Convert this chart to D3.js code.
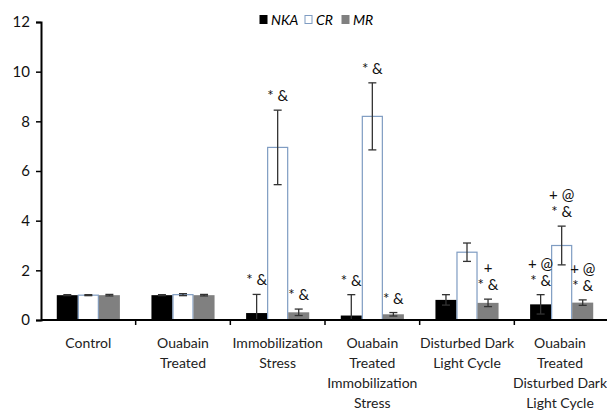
<!DOCTYPE html>
<html><head><meta charset="utf-8">
<script src="https://cdn.jsdelivr.net/npm/d3@7"></script>
<style>body{margin:0;background:#fff}svg{display:block;font-family:Lato,"Open Sans",sans-serif}</style>
</head><body><svg id="c" width="607" height="413"></svg>
<script>
const categories = [
  ["Control"],
  ["Ouabain","Treated"],
  ["Immobilization","Stress"],
  ["Ouabain","Treated","Immobilization","Stress"],
  ["Disturbed Dark","Light Cycle"],
  ["Ouabain","Treated","Disturbed Dark","Light Cycle"]
];
const series = ["NKA","CR","MR"];
const nkaValues = [1.0, 1.0, 0.28, 0.18, 0.81, 0.63];
const nkaErrors = [0.02, 0.02, 0.75, 0.84, 0.21, 0.39];
const crValues  = [1.0, 1.02, 6.95, 8.2, 2.73, 3.0];
const crErrors  = [0.02, 0.04, 1.5, 1.35, 0.37, 0.78];
const mrValues  = [1.0, 1.0, 0.31, 0.23, 0.69, 0.7];
const mrErrors  = [0.03, 0.03, 0.13, 0.07, 0.15, 0.11];
const nkaMarks = [[],[],["* &"],["* &"],[],["+ @","* &"]];
const crMarks  = [[],[],["*  &"],["*  &"],[],["+ @","* &"]];
const mrMarks  = [[],[],["* &"],["* &"],["+","* &"],["+ @","* &"]];
const yTicks = [0,2,4,6,8,10,12];

const fills = {NKA:"#000000", CR:"#ffffff", MR:"#808080"};
const strokes = {NKA:"#000000", CR:"#7f9cc2", MR:"#808080"};
const vals = {NKA:nkaValues, CR:crValues, MR:mrValues};
const errs = {NKA:nkaErrors, CR:crErrors, MR:mrErrors};
const marks = {NKA:nkaMarks, CR:crMarks, MR:mrMarks};

const svg = d3.select("#c");
const x0 = d3.scaleBand().domain(d3.range(categories.length)).range([41, 609]).padding(0);
const x1 = d3.scaleBand().domain(series).range([0, x0.bandwidth()]).paddingInner(0).paddingOuter(0.75);
const y = d3.scaleLinear().domain([0,12]).range([320, 22]);

// y axis
const ya = svg.append("g").attr("transform","translate(41,0)")
  .call(d3.axisLeft(y).tickValues(yTicks).tickSize(5).tickPadding(6));
ya.select(".domain").attr("stroke","#000").attr("stroke-width",2);
ya.selectAll(".tick line").attr("stroke","#000").attr("stroke-width",1.5);
ya.selectAll(".tick text").attr("font-size",15).attr("fill","#111").attr("font-family","Lato,sans-serif");

// bars
const data = [];
categories.forEach((c,i)=>series.forEach(s=>data.push({i,s,v:vals[s][i],e:errs[s][i],m:marks[s][i]})));
const g = svg.append("g");
g.selectAll("rect").data(data).join("rect")
  .attr("x",d=>x0(d.i)+x1(d.s)+(d.s==="CR"?0.5:0))
  .attr("width",d=>x1.bandwidth()-(d.s==="CR"?1:0))
  .attr("y",d=>y(d.v))
  .attr("height",d=>y(0)-y(d.v))
  .attr("fill",d=>fills[d.s])
  .attr("stroke",d=>d.s==="CR"?strokes.CR:"none")
  .attr("stroke-width",1.2);

// error bars
const eb = svg.append("g").attr("stroke","#333").attr("stroke-width",1.3);
data.forEach(d=>{
  const cx = x0(d.i)+x1(d.s)+x1.bandwidth()/2;
  const top = y(d.v+d.e), bot = y(Math.max(0,d.v-d.e));
  eb.append("line").attr("x1",cx).attr("x2",cx).attr("y1",top).attr("y2",bot);
  eb.append("line").attr("x1",cx-4).attr("x2",cx+4).attr("y1",top).attr("y2",top);
  eb.append("line").attr("x1",cx-4).attr("x2",cx+4).attr("y1",bot).attr("y2",bot);
});

// annotations
const an = svg.append("g").attr("font-size",15).attr("fill","#111").attr("text-anchor","middle");
data.forEach(d=>{
  const cx = x0(d.i)+x1(d.s)+x1.bandwidth()/2;
  const top = y(d.v+d.e);
  const n = d.m.length;
  d.m.forEach((t,k)=>{
    an.append("text").attr("x",cx).attr("y",top-9-(n-1-k)*17).text(t);
  });
});

// x axis
const xa = svg.append("g").attr("transform","translate(0,320)");
xa.append("line").attr("x1",41).attr("x2",607).attr("y1",0).attr("y2",0).attr("stroke","#000").attr("stroke-width",2);
xa.selectAll("line.t").data(d3.range(1,categories.length)).join("line").attr("class","t")
  .attr("x1",d=>x0(d)).attr("x2",d=>x0(d)).attr("y1",0).attr("y2",5).attr("stroke","#000").attr("stroke-width",1.5);
const xl = xa.selectAll("text.cat").data(categories).join("text").attr("class","cat")
  .attr("text-anchor","middle").attr("font-size",14).attr("fill","#222");
xl.each(function(lines,i){
  const t = d3.select(this);
  const cx = Math.min(x0(i)+x0.bandwidth()/2, 560);
  lines.forEach((ln,k)=>t.append("tspan").attr("x",cx).attr("y",28+k*20).text(ln));
});

// legend
const lg = svg.append("g").attr("font-size",14).attr("font-style","italic").attr("fill","#000");
const lx = [260, 305, 342];
series.forEach((s,k)=>{
  lg.append("rect").attr("x",lx[k]).attr("y",15.5).attr("width",7).attr("height",8)
    .attr("fill",fills[s]).attr("stroke",strokes[s]).attr("stroke-width",1);
  lg.append("text").attr("x",lx[k]+11).attr("y",24.5).text(s);
});
</script></body></html>
